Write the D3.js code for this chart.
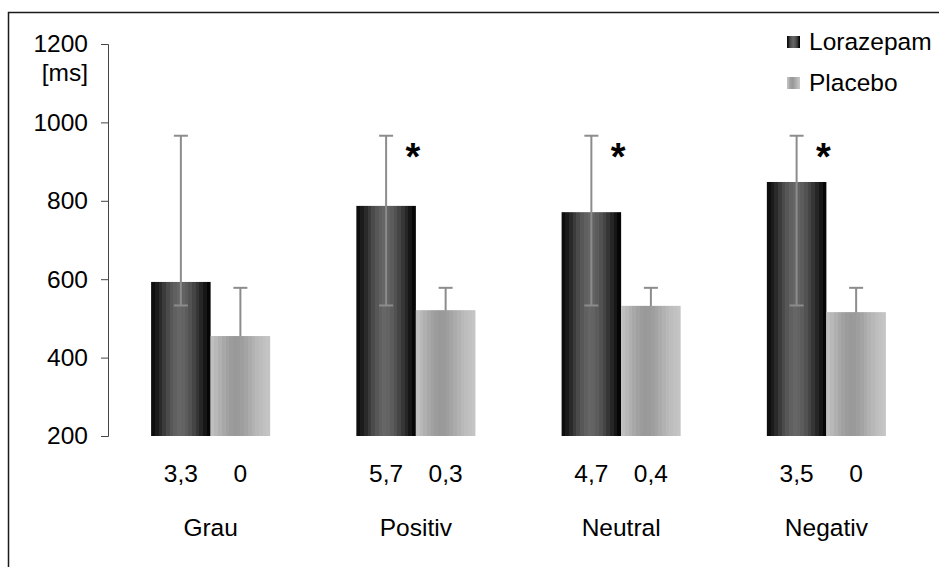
<!DOCTYPE html>
<html>
<head>
<meta charset="utf-8">
<script src="https://cdn.jsdelivr.net/npm/d3@7"></script>
<style>
  html, body { margin: 0; padding: 0; background: #fff; }
  svg { display: block; font-family: "Liberation Sans", Arial, sans-serif; }
</style>
</head>
<body>
<svg id="chart" width="939" height="567"></svg>
<script>
// Reaction times per stimulus category
const categories = ["Grau", "Positiv", "Neutral", "Negativ"];
const seriesNames = ["Lorazepam", "Placebo"];
const lorazepam = [593, 787, 771, 848];
const placebo = [455, 521, 532, 516];
// Error bar extents (lower, upper) per bar
const lorazepamErrLow = [533, 533, 533, 533];
const lorazepamErrHigh = [966, 966, 966, 966];
const placeboErrLow = [437, 437, 437, 437];
const placeboErrHigh = [578, 578, 578, 578];
// Error counts printed under each bar
const lorazepamCounts = ["3,3", "5,7", "4,7", "3,5"];
const placeboCounts = ["0", "0,3", "0,4", "0"];
// Significant differences marked with an asterisk
const significant = [false, true, true, true];
const yTicks = [200, 400, 600, 800, 1000, 1200];

const FONT = "24.5px";
const svg = d3.select("#chart");

// Frame around the figure
svg.append("rect")
  .attr("x", 8.5).attr("y", 12.5)
  .attr("width", 960).attr("height", 600)
  .attr("fill", "none").attr("stroke", "#1a1a1a").attr("stroke-width", 1.5);

const y = d3.scaleLinear().domain([200, 1200]).range([436, 44]);
const x0 = d3.scaleBand().domain(categories).range([108, 929])
  .paddingInner(0.42).paddingOuter(0.21);
const x1 = d3.scaleBand().domain(seriesNames).range([0, x0.bandwidth()]);

// Banded cylinder-like gradients
const defs = svg.append("defs");
function bandedGradient(id, colors) {
  const g = defs.append("linearGradient").attr("id", id)
    .attr("x1", "0%").attr("x2", "100%").attr("y1", "0%").attr("y2", "0%");
  const n = colors.length;
  colors.forEach((c, i) => {
    g.append("stop").attr("offset", (i / n * 100) + "%").attr("stop-color", c);
    g.append("stop").attr("offset", ((i + 1) / n * 100) + "%").attr("stop-color", c);
  });
}
bandedGradient("gradLora", ["#0e0e0e", "#1b1b1b", "#2a2a2a", "#3b3b3b", "#4b4b4b", "#575757",
  "#606060", "#666666", "#636363", "#5c5c5c", "#525252", "#454545", "#363636", "#262626", "#161616", "#060606"]);
bandedGradient("gradPlac", ["#c0c0c0", "#b8b8b8", "#b0b0b0", "#a8a8a8", "#a1a1a1", "#9c9c9c",
  "#999999", "#9a9a9a", "#9e9e9e", "#a4a4a4", "#ababab", "#b2b2b2", "#b8b8b8", "#bdbdbd", "#c1c1c1", "#c4c4c4"]);

// Y axis
const yAxis = d3.axisLeft(y).tickValues(yTicks).tickFormat(d3.format("d"))
  .tickSize(7).tickPadding(13);
const ag = svg.append("g").attr("transform", "translate(108,0)").call(yAxis);
ag.attr("font-size", null).attr("font-family", null);
ag.select(".domain").attr("stroke", "#444").attr("d", "M-7,44.5H0.5V436.5H-7");
ag.selectAll(".tick line").attr("stroke", "#444");
ag.selectAll(".tick text").attr("fill", "#000").style("font-size", FONT);
svg.append("text").attr("x", 88).attr("y", 81).attr("text-anchor", "end")
  .style("font-size", FONT).text("[ms]");

const groups = categories.map((c, i) => ({
  cat: c, i,
  lora: lorazepam[i], plac: placebo[i],
  lLow: lorazepamErrLow[i], lHigh: lorazepamErrHigh[i],
  pLow: placeboErrLow[i], pHigh: placeboErrHigh[i]
}));

function errorBar(sel, cx, lo, hi) {
  const g = sel.append("g").attr("stroke", "#8c8c8c").attr("stroke-width", 2);
  g.append("line").attr("x1", cx).attr("x2", cx).attr("y1", y(lo)).attr("y2", y(hi));
  g.append("line").attr("x1", cx - 7).attr("x2", cx + 7).attr("y1", y(lo)).attr("y2", y(lo));
  g.append("line").attr("x1", cx - 7).attr("x2", cx + 7).attr("y1", y(hi)).attr("y2", y(hi));
}

// Placebo error bars sit behind the bars
groups.forEach(d => {
  errorBar(svg, x0(d.cat) + x1("Placebo") + x1.bandwidth() / 2, d.pLow, d.pHigh);
});

// Bars
groups.forEach(d => {
  svg.append("rect")
    .attr("x", x0(d.cat) + x1("Lorazepam")).attr("width", x1.bandwidth())
    .attr("y", y(d.lora)).attr("height", y(200) - y(d.lora))
    .attr("fill", "url(#gradLora)");
  svg.append("rect")
    .attr("x", x0(d.cat) + x1("Placebo")).attr("width", x1.bandwidth())
    .attr("y", y(d.plac)).attr("height", y(200) - y(d.plac))
    .attr("fill", "url(#gradPlac)");
});

// Lorazepam error bars drawn on top
groups.forEach(d => {
  errorBar(svg, x0(d.cat) + x1("Lorazepam") + x1.bandwidth() / 2, d.lLow, d.lHigh);
});

// Significance asterisks
groups.filter(d => significant[d.i]).forEach(d => {
  svg.append("text")
    .attr("x", x0(d.cat) + x0.bandwidth() / 2 - 3).attr("y", 170)
    .attr("text-anchor", "middle").style("font-size", "38px").style("font-weight", "bold")
    .text("*");
});

// Counts under bars and category labels
groups.forEach(d => {
  svg.append("text")
    .attr("x", x0(d.cat) + x1("Lorazepam") + x1.bandwidth() / 2).attr("y", 482)
    .attr("text-anchor", "middle").style("font-size", FONT).text(lorazepamCounts[d.i]);
  svg.append("text")
    .attr("x", x0(d.cat) + x1("Placebo") + x1.bandwidth() / 2).attr("y", 482)
    .attr("text-anchor", "middle").style("font-size", FONT).text(placeboCounts[d.i]);
  svg.append("text")
    .attr("x", x0(d.cat) + x0.bandwidth() / 2).attr("y", 536)
    .attr("text-anchor", "middle").style("font-size", FONT).text(d.cat);
});

// Legend
const legend = svg.append("g");
seriesNames.forEach((s, i) => {
  const ly = 42 + i * 41;
  legend.append("rect").attr("x", 787).attr("y", ly - 6).attr("width", 13).attr("height", 12)
    .attr("fill", i === 0 ? "url(#gradLora)" : "url(#gradPlac)");
  legend.append("text").attr("x", 809).attr("y", ly + 8)
    .style("font-size", FONT).text(s);
});
</script>
</body>
</html>
